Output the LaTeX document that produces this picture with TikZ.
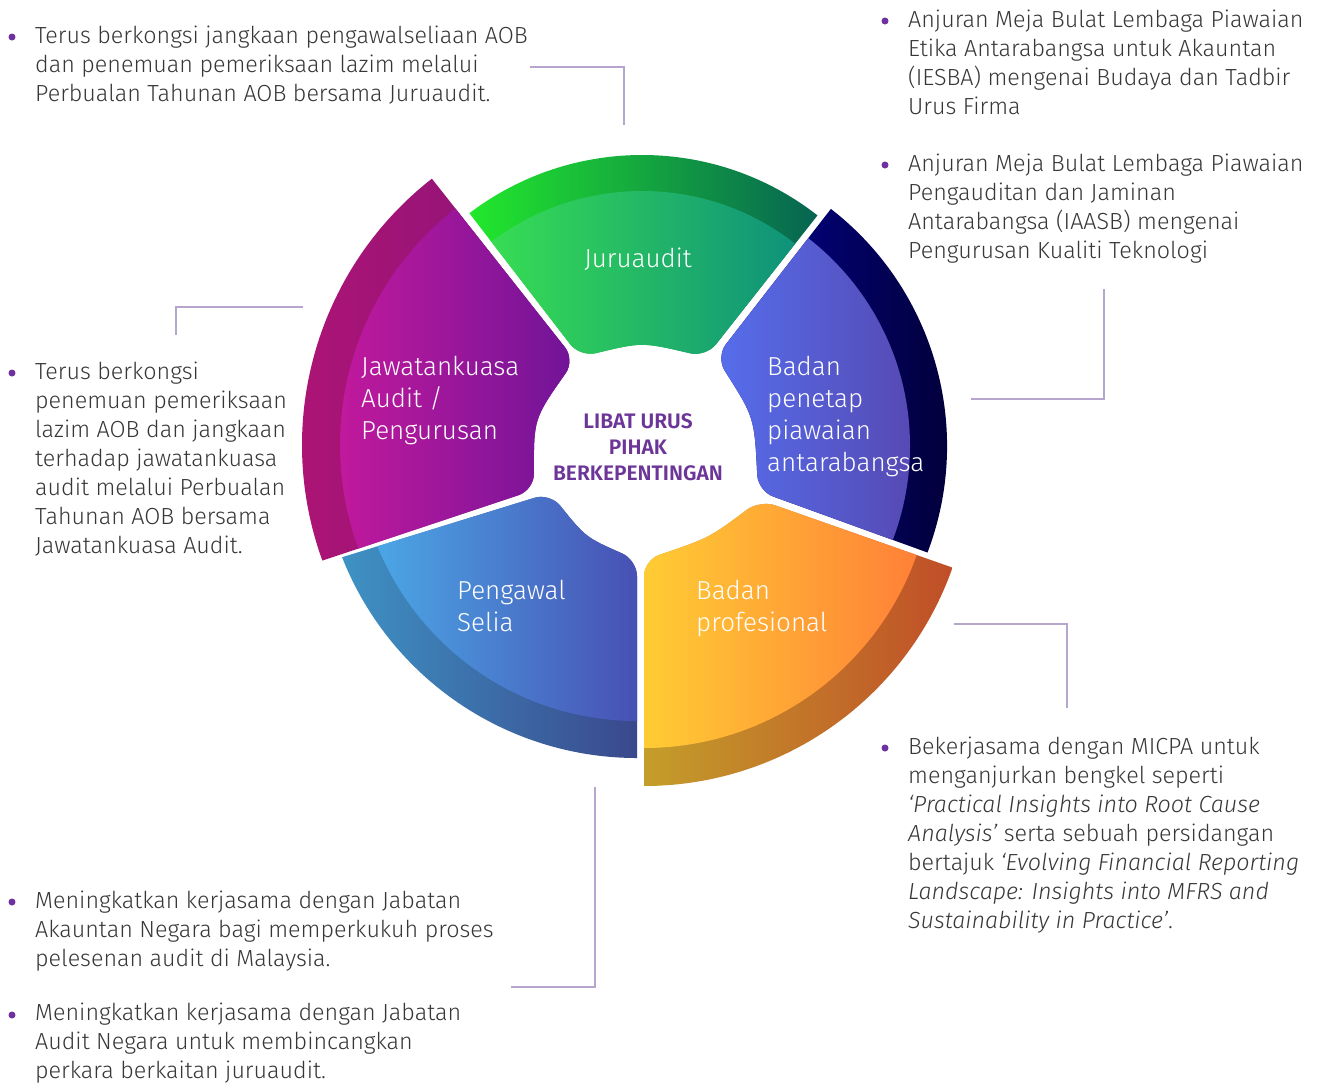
\documentclass[tikz,border=0pt]{standalone}
\usepackage{fontspec}
\IfFontExistsTF{Fira Sans Light}
  {\setmainfont{Fira Sans}[UprightFont=* Light, ItalicFont=* Light Italic, BoldFont=* SemiBold]}
  {\setmainfont{Fira Sans}}
\usepackage{tikz}

\definecolor{ink}{RGB}{55,55,55}
\definecolor{dotpurple}{RGB}{112,48,160}
\definecolor{linkgrey}{RGB}{182,166,206}
\definecolor{hubpurple}{RGB}{108,54,152}
\definecolor{juruL}{RGB}{58,226,80}
\definecolor{juruR}{RGB}{12,140,125}
\definecolor{juruBL}{RGB}{34,232,44}
\definecolor{juruBR}{RGB}{6,100,82}
\definecolor{jawL}{RGB}{216,26,158}
\definecolor{jawR}{RGB}{112,20,152}
\definecolor{jawBL}{RGB}{176,20,116}
\definecolor{jawBR}{RGB}{134,20,122}
\definecolor{penL}{RGB}{86,110,236}
\definecolor{penR}{RGB}{86,62,162}
\definecolor{penBL}{RGB}{2,2,150}
\definecolor{penBR}{RGB}{2,0,48}
\definecolor{selL}{RGB}{76,178,236}
\definecolor{selR}{RGB}{72,80,180}
\definecolor{selBL}{RGB}{62,146,196}
\definecolor{selBR}{RGB}{58,72,140}
\definecolor{proL}{RGB}{255,204,52}
\definecolor{proR}{RGB}{255,118,56}
\definecolor{proBL}{RGB}{196,158,42}
\definecolor{proBR}{RGB}{192,78,40}

\tikzset{
  bodytext/.style={anchor=north west, inner sep=0pt, align=left, text=ink,
    font=\fontsize{23.3}{29}\selectfont},
  seglabel/.style={anchor=north west, inner sep=0pt, align=left, text=white,
    font=\fontsize{26}{32}\selectfont},
  bulletdot/.style={circle, fill=dotpurple, inner sep=0pt, minimum size=7pt},
  link/.style={draw=linkgrey, line width=2.2pt},
}

\begin{document}
\begin{tikzpicture}[x=1pt,y=-1pt]
\useasboundingbox[fill=white] (0,0) rectangle (1317,1085);

% ring segments
\def\segJuru{(469.4,213.2) [rounded corners=16pt] -- (580,357) .. controls (642,342) .. (706,357)
  [sharp corners] -- (817.5,215.4) arc[start angle=-52, end angle=-127.3, radius=285] -- cycle}
\def\segJawat{(431.9,178.7) [rounded corners=16pt] -- (575,360) .. controls (533.7,418.7) .. (534,490)
  [sharp corners] -- (322.4,560.6) arc[start angle=-200, end angle=-128, radius=338] -- cycle}
\def\segPenetap{(830.9,208.9) [rounded corners=16pt] -- (716,357) .. controls (754.4,417.3) .. (758,491)
  [sharp corners] -- (927.5,552.5) arc[start angle=20.8, end angle=-52.2, radius=300] -- cycle}
\def\segSelia{(342.1,557.2) [rounded corners=16pt] -- (550,493) .. controls (585.7,537.3) .. (637,560)
  [sharp corners] -- (637,758) arc[start angle=90, end angle=158.5, radius=317] -- cycle}
\def\segProf{(644,786) [rounded corners=16pt] -- (644,560) .. controls (709,538) .. (760,500)
  [sharp corners] -- (952.5,567.6) arc[start angle=19.4, end angle=90, radius=327] -- cycle}

\shade[left color=juruBL, right color=juruBR] \segJuru;
\begin{scope}
\clip (642,440) circle (249);
\shade[left color=juruL, right color=juruR] \segJuru;
\end{scope}

\shade[left color=jawBL, right color=jawBR] \segJawat;
\begin{scope}
\clip (640,445) circle (300);
\shade[left color=jawL, right color=jawR] \segJawat;
\end{scope}

\shade[left color=penBL, right color=penBR] \segPenetap;
\begin{scope}
\clip (647,446) circle (263);
\shade[left color=penL, right color=penR] \segPenetap;
\end{scope}

\shade[left color=selBL, right color=selBR] \segSelia;
\begin{scope}
\clip (637,441) circle (280);
\shade[left color=selL, right color=selR] \segSelia;
\end{scope}

\shade[left color=proBL, right color=proBR] \segProf;
\begin{scope}
\clip (644,459) circle (289);
\shade[left color=proL, right color=proR] \segProf;
\end{scope}

% labels on the ring
\node (juru) at (638,259) [inner sep=0pt, text=white, font=\fontsize{26}{32}\selectfont] {Juruaudit};
\node (jawat) at (361,356.4) [seglabel] {Jawatankuasa\\Audit /\\Pengurusan};
\node (penetap) at (767,356.4) [seglabel] {Badan\\penetap\\piawaian\\antarabangsa};
\node (selia) at (457,580.4) [seglabel] {Pengawal\\Selia};
\node (prof) at (696,580.4) [seglabel] {Badan\\profesional};
\node (hub) at (638,447) [align=center, inner sep=0pt, text=hubpurple,
  font=\bfseries\fontsize{21}{26}\selectfont] {LIBAT URUS\\PIHAK\\BERKEPENTINGAN};

% notes
\node (d1) at (12,37) [bulletdot] {};
\node (t1) at (35,26) [bodytext] {Terus berkongsi jangkaan pengawalseliaan AOB\\
  dan penemuan pemeriksaan lazim melalui\\Perbualan Tahunan AOB bersama Juruaudit.};
\node (d2) at (12,373) [bulletdot] {};
\node (t2) at (35,362) [bodytext] {Terus berkongsi\\penemuan pemeriksaan\\lazim AOB dan jangkaan\\
  terhadap jawatankuasa\\audit melalui Perbualan\\Tahunan AOB bersama\\Jawatankuasa Audit.};
\node (d3) at (885,21) [bulletdot] {};
\node (t3) at (908,10) [bodytext] {Anjuran Meja Bulat Lembaga Piawaian\\
  Etika Antarabangsa untuk Akauntan\\(IESBA) mengenai Budaya dan Tadbir\\Urus Firma};
\node (d4) at (885,165) [bulletdot] {};
\node (t4) at (908,154) [bodytext] {Anjuran Meja Bulat Lembaga Piawaian\\
  Pengauditan dan Jaminan\\Antarabangsa (IAASB) mengenai\\Pengurusan Kualiti Teknologi};
\node (d5) at (885,748) [bulletdot] {};
\node (t5) at (908,737) [bodytext] {Bekerjasama dengan MICPA untuk\\
  menganjurkan bengkel seperti\\\textit{‘Practical Insights into Root Cause}\\
  \textit{Analysis’} serta sebuah persidangan\\bertajuk \textit{‘Evolving Financial Reporting}\\
  \textit{Landscape: Insights into MFRS and}\\\textit{Sustainability in Practice’}.};
\node (d6) at (12,902) [bulletdot] {};
\node (t6) at (35,891) [bodytext] {Meningkatkan kerjasama dengan Jabatan\\
  Akauntan Negara bagi memperkukuh proses\\pelesenan audit di Malaysia.};
\node (d7) at (12,1015) [bulletdot] {};
\node (t7) at (35,1003) [bodytext] {Meningkatkan kerjasama dengan Jabatan\\
  Audit Negara untuk membincangkan\\perkara berkaitan juruaudit.};

% leader lines
\coordinate (lJuruA) at (530,67);
\coordinate (lJuruB) at (624,125);
\coordinate (lJawatA) at (303,307);
\coordinate (lJawatB) at (176,335);
\coordinate (lPenA) at (971,399);
\coordinate (lPenB) at (1104,289);
\coordinate (lProfA) at (954,624);
\coordinate (lProfB) at (1067,708);
\coordinate (lSelA) at (595,787);
\coordinate (lSelB) at (511,987);
\draw[link] (lJuruA) -| (lJuruB);
\draw[link] (lJawatA) -| (lJawatB);
\draw[link] (lPenA) -| (lPenB);
\draw[link] (lProfA) -| (lProfB);
\draw[link] (lSelA) |- (lSelB);
\end{tikzpicture}
\end{document}
